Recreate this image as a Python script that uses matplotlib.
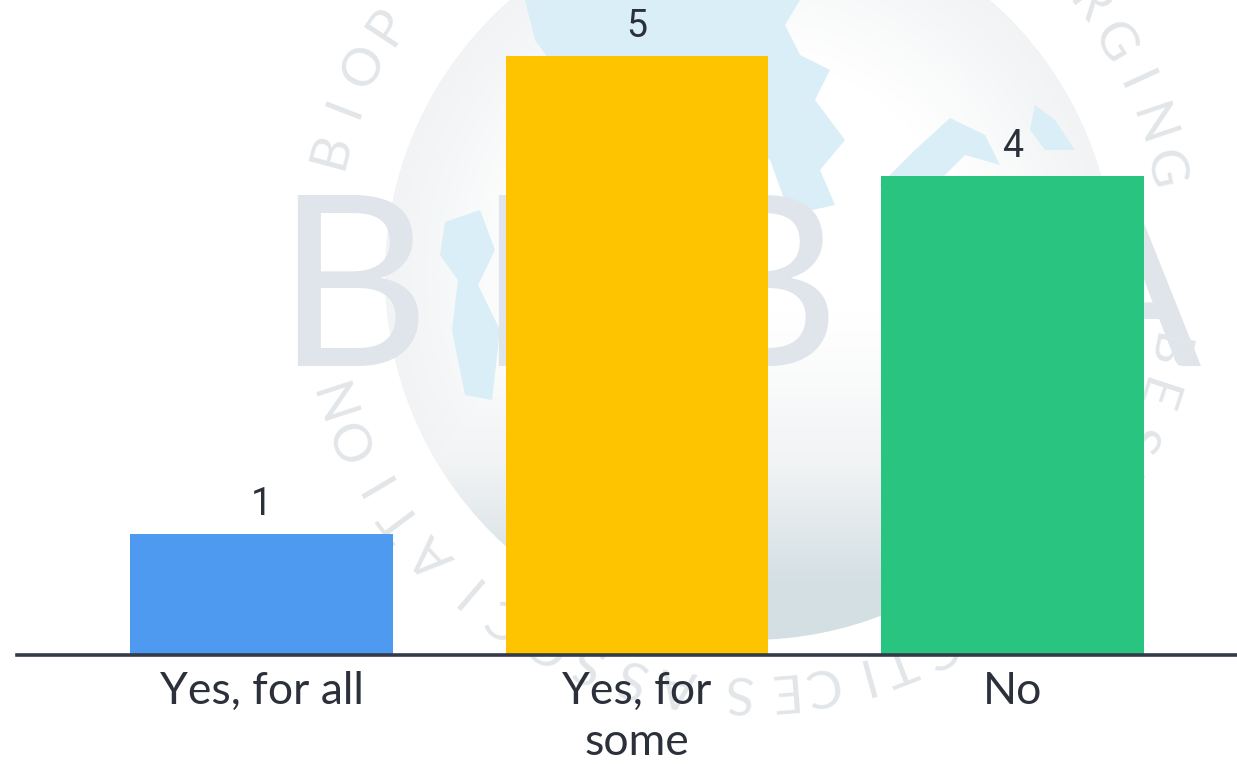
import matplotlib
matplotlib.use('Agg')
import matplotlib.pyplot as plt
import numpy as np
from matplotlib.colors import LinearSegmentedColormap
from matplotlib.patches import Circle, Polygon

categories = ['Yes, for all', 'Yes, for\nsome', 'No']
counts = [1, 5, 4]
bar_colors = ['#4e9af1', '#ffc400', '#29c47f']

logo_letters = ['B', 'E', 'B', 'P', 'A']
logo_x = [352, 545, 762, 960, 1120]

# ring lettering: word group, first angle, degrees per letter
ring_words = [
    ('BIOPHARMACEUTICAL EMERGING', 165, 6.1),
    ('BEST', -12, 6),
    ('PRACTICES', -47, 5.5),
    ('ASSOCIATION', -99, 6.3),
]

# sea shapes of the backdrop globe
sea_shapes = [
    [(525, 0), (800, 0), (785, 25), (800, 55), (830, 70), (815, 100), (845, 140), (820, 170),
     (835, 205), (790, 215), (770, 160), (700, 120), (640, 70), (560, 75), (535, 40)],
    [(915, 150), (950, 118), (985, 135), (1000, 165), (965, 155), (940, 180), (905, 195), (880, 185)],
    [(445, 222), (480, 210), (495, 250), (478, 285), (500, 330), (492, 400), (465, 395), (452, 330),
     (458, 280), (440, 255)],
    [(1035, 105), (1055, 120), (1075, 150), (1045, 150), (1030, 130)],
]

fig = plt.figure(figsize=(12.37, 7.64), dpi=100)
fig.patch.set_facecolor('white')

# backdrop layer in pixel coordinates
bg = fig.add_axes([0, 0, 1, 1], zorder=0)
bg.axis('off')

globe_cmap = LinearSegmentedColormap.from_list('globe', ['#ffffff', '#f1f3f4', '#d3dfe3'])
gx, gy = np.meshgrid(np.linspace(-1, 1, 300), np.linspace(-1, 1, 300))
edge = np.clip((np.hypot(gx, gy) - 0.6) / 0.4, 0, 1) * 0.5
lower = np.clip((gy - 0.1) / 0.75, 0, 1) ** 1.2
globe_img = bg.imshow(np.maximum(edge, lower), extent=(385, 1115, 640, -90), cmap=globe_cmap,
                      vmin=0, vmax=1, aspect='auto', zorder=1)
globe_edge = Circle((750, 275), 365, transform=bg.transData)
globe_img.set_clip_path(globe_edge)
bg.set_xlim(0, 1237)
bg.set_ylim(764, 0)

for shape in sea_shapes:
    sea = Polygon(shape, closed=True, facecolor='#d9eef6', edgecolor='none', zorder=2)
    bg.add_patch(sea)
    sea.set_clip_path(globe_edge)

for letter, x in zip(logo_letters, logo_x):
    bg.text(x, 366, letter, fontsize=172, family='Lato', color='#dfe5ea',
            ha='center', va='baseline', zorder=3)

# ring lettering runs clockwise around the globe
ring_center = (745, 262)
ring_radius = 428
for word, start, step in ring_words:
    for i, letter in enumerate(word):
        angle = np.deg2rad(start - step * i)
        rx = ring_center[0] + ring_radius * np.cos(angle)
        ry = ring_center[1] - ring_radius * np.sin(angle)
        # letters above the top edge stay out
        if ry < 3:
            continue
        bg.text(rx, ry, letter, fontsize=38, family='Lato', color='#e3e6e9',
                rotation=np.rad2deg(angle) - 90, rotation_mode='anchor',
                ha='center', va='center', zorder=3)

# bar chart on top
ax = fig.add_axes([17 / 1237, (764 - 654) / 764, 1 - 17 / 1237, 654 / 764], zorder=1)
ax.patch.set_alpha(0)
positions = np.arange(len(categories))
ax.bar(positions, counts, width=0.7, color=bar_colors)
ax.set_xlim(-0.651, 2.598)
ax.set_ylim(0, 5.47)

for pos, val in zip(positions, counts):
    ax.annotate(str(val), (pos, val), xytext=(0, 8), textcoords='offset points',
                ha='center', va='bottom', fontsize=27, family='Roboto',
                color='#2b303b')

for side in ['top', 'left', 'right']:
    ax.spines[side].set_visible(False)
ax.spines['bottom'].set_linewidth(2.6)
ax.spines['bottom'].set_color('#333a4a')
ax.spines['bottom'].set_position(('outward', 1))

ax.set_yticks([])
ax.set_xticks(positions)
ax.set_xticklabels(categories, fontsize=32, family='Lato', color='#2b303b', linespacing=1.3)
ax.tick_params(axis='x', length=0, pad=11)

fig.savefig('out.png', dpi=100)
